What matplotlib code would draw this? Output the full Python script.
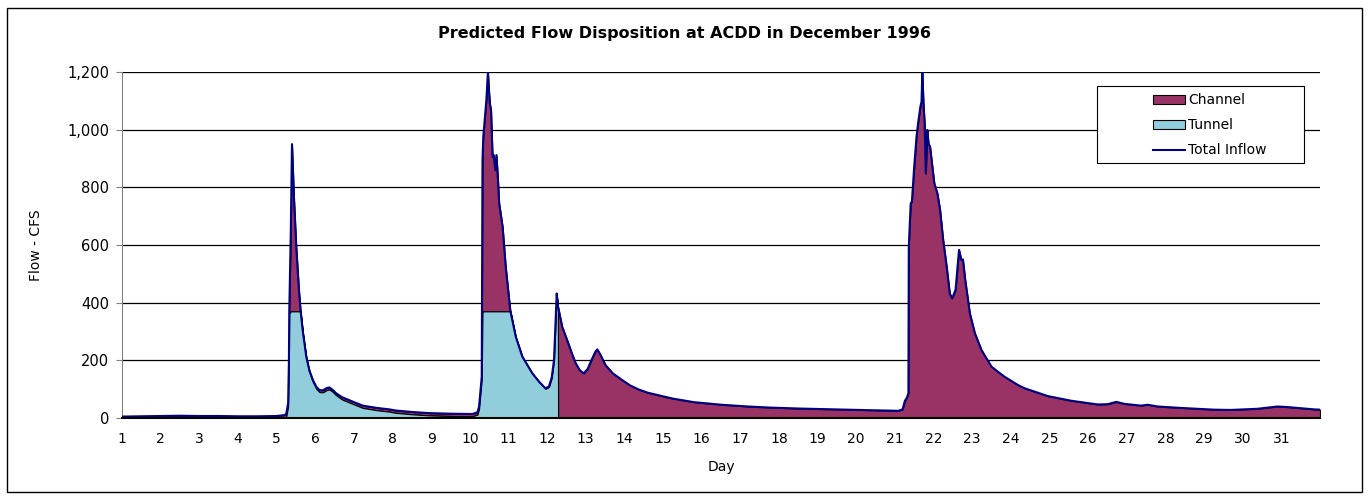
import numpy as np
import matplotlib.pyplot as plt
from matplotlib.patches import Rectangle

plt.rcParams['font.family'] = ['DejaVu Sans']

# day of month, total inflow (cfs), flow sent down the tunnel (cfs)
day = [1.0, 1.5, 2.0, 2.5, 3.0, 3.5, 4.0, 4.5, 5.0, 5.2,
       5.25, 5.30, 5.32, 5.33, 5.37, 5.40, 5.45, 5.51, 5.58, 5.62,
       5.68, 5.77, 5.85, 5.94, 6.03, 6.11, 6.2, 6.3, 6.37, 6.45,
       6.54, 6.7, 6.97, 7.23, 7.6, 7.92, 8.09, 8.5, 8.95, 9.5,
       10.07, 10.2, 10.24, 10.31, 10.33, 10.35, 10.40, 10.43, 10.47, 10.50,
       10.52, 10.55, 10.59, 10.62, 10.66, 10.69, 10.73, 10.76, 10.85, 10.93,
       11.02, 11.05, 11.19, 11.36, 11.62, 11.8, 11.96, 12.05, 12.12, 12.18,
       12.22, 12.25, 12.28, 12.285, 12.39, 12.52, 12.64, 12.74, 12.85, 12.95,
       13.05, 13.13, 13.25, 13.30, 13.38, 13.51, 13.7, 13.94, 14.15, 14.37,
       14.6, 14.85, 15.23, 15.8, 16.52, 17.2, 17.81, 18.5, 19.10, 19.8,
       20.40, 21.09, 21.20, 21.26, 21.31, 21.35, 21.36, 21.41, 21.44, 21.50,
       21.56, 21.60, 21.66, 21.69, 21.71, 21.74, 21.77, 21.80, 21.84, 21.87,
       21.91, 21.95, 22.02, 22.10, 22.17, 22.25, 22.34, 22.42, 22.48, 22.57,
       22.66, 22.72, 22.76, 22.82, 22.94, 23.07, 23.24, 23.50, 23.67, 23.84,
       24.19, 24.36, 24.96, 25.56, 26.25, 26.51, 26.73, 26.94, 27.37, 27.54,
       27.80, 28.40, 29.26, 29.69, 30.38, 30.90, 31.16, 31.85, 32.0]

total = [5, 6, 7, 8, 7, 7, 6, 6, 7, 10,
         14, 51, 190, 370, 652, 950, 767, 594, 444, 376,
         300, 213, 165, 132, 108, 97, 96, 104, 106, 98,
         86, 72, 57, 43, 35, 30, 26, 21, 17, 15,
         14, 20, 39, 143, 895, 975, 1057, 1103, 1200, 1130,
         1091, 1068, 906, 912, 860, 912, 825, 745, 663, 525,
         409, 372, 282, 213, 155, 125, 103, 110, 140, 201,
         330, 432, 386, 386, 317, 270, 225, 190, 165, 155,
         170, 195, 230, 238, 220, 184, 155, 132, 113, 99,
         88, 80, 68, 55, 46, 40, 36, 33, 31, 29,
         27, 25, 30, 60, 70, 86, 594, 745, 750, 871,
         976, 1022, 1080, 1097, 1200, 1091, 1022, 848, 999, 952,
         941, 895, 814, 779, 721, 617, 525, 432, 415, 444,
         583, 548, 550, 479, 363, 294, 236, 178, 160, 143,
         114, 103, 76, 60, 47, 48, 56, 49, 43, 46,
         40, 35, 29, 28, 32, 40, 38, 30, 29]

tunnel = [0, 0, 0, 0, 0, 0, 0, 0, 0, 0,
          4, 40, 180, 362, 370, 370, 370, 370, 370, 370,
          294, 206, 158, 125, 101, 90, 89, 97, 99, 91,
          79, 64, 49, 35, 27, 22, 18, 13, 9, 7,
          6, 12, 31, 135, 370, 370, 370, 370, 370, 370,
          370, 370, 370, 370, 370, 370, 370, 370, 370, 370,
          370, 370, 280, 211, 153, 123, 101, 108, 138, 199,
          328, 430, 384, 0, 0, 0, 0, 0, 0, 0,
          0, 0, 0, 0, 0, 0, 0, 0, 0, 0,
          0, 0, 0, 0, 0, 0, 0, 0, 0, 0,
          0, 0, 0, 0, 0, 0, 0, 0, 0, 0,
          0, 0, 0, 0, 0, 0, 0, 0, 0, 0,
          0, 0, 0, 0, 0, 0, 0, 0, 0, 0,
          0, 0, 0, 0, 0, 0, 0, 0, 0, 0,
          0, 0, 0, 0, 0, 0, 0, 0, 0, 0,
          0, 0, 0, 0, 0, 0, 0, 0, 0]

day = np.array(day)
total = np.array(total)
tunnel = np.array(tunnel)

channel_color = '#993366'
tunnel_color = '#92CDDC'
inflow_color = '#000080'

fig = plt.figure(figsize=(13.7, 4.98), dpi=100)
fig.patches.append(Rectangle((0.005, 0.012), 0.989, 0.972, transform=fig.transFigure,
                             fill=False, edgecolor='black', lw=1.0))
ax = fig.add_axes([0.089, 0.1606, 0.8745, 0.6948])

ax.fill_between(day, tunnel, total, facecolor=channel_color, edgecolor='black',
                lw=0.8, label='Channel', zorder=2)
ax.fill_between(day, 0, tunnel, facecolor=tunnel_color, edgecolor='black',
                lw=0.8, label='Tunnel', zorder=3)
ax.plot(day, total, color=inflow_color, lw=1.5, label='Total Inflow', zorder=4)

ax.set_xlim(1, 32)
ax.set_ylim(0, 1200)
ax.set_xticks(range(1, 32))
ax.set_yticks(range(0, 1201, 200))
ax.yaxis.set_major_formatter(plt.FuncFormatter(lambda v, p: f'{int(v):,}'))
ax.grid(axis='y', color='black', lw=0.9, zorder=1)
ax.set_axisbelow(True)
for s in ['top', 'right']:
    ax.spines[s].set_visible(False)
ax.spines['left'].set_color('#808080')
ax.spines['bottom'].set_color('black')
ax.spines['bottom'].set_linewidth(1.5)
ax.spines['bottom'].set_zorder(5)
ax.tick_params(axis='x', length=0, pad=10, labelsize=10)
ax.tick_params(axis='y', length=4, color='#808080', labelsize=10.5, pad=5)

ax.set_xlabel('Day', fontsize=10)
ax.xaxis.set_label_coords(0.5, -0.121)
ax.set_ylabel('Flow - CFS', fontsize=10)
ax.yaxis.set_label_coords(-0.066, 0.5)
fig.text(0.5, 0.932, 'Predicted Flow Disposition at ACDD in December 1996',
         ha='center', va='center', fontsize=11.5, fontweight='bold')

# legend box drawn separately so it can carry the wide left margin
ax.add_patch(Rectangle((0.814, 0.737), 0.1726, 0.2225, transform=ax.transAxes,
                       facecolor='white', edgecolor='black', lw=0.8, zorder=6))
leg = ax.legend(loc='upper left', bbox_to_anchor=(0.861, 0.938), fontsize=10,
                frameon=False, handlelength=2.3, handleheight=0.55,
                handletextpad=0.2, borderpad=0, labelspacing=0.78,
                borderaxespad=0)
leg.set_zorder(7)

fig.savefig('out.png', dpi=100)
